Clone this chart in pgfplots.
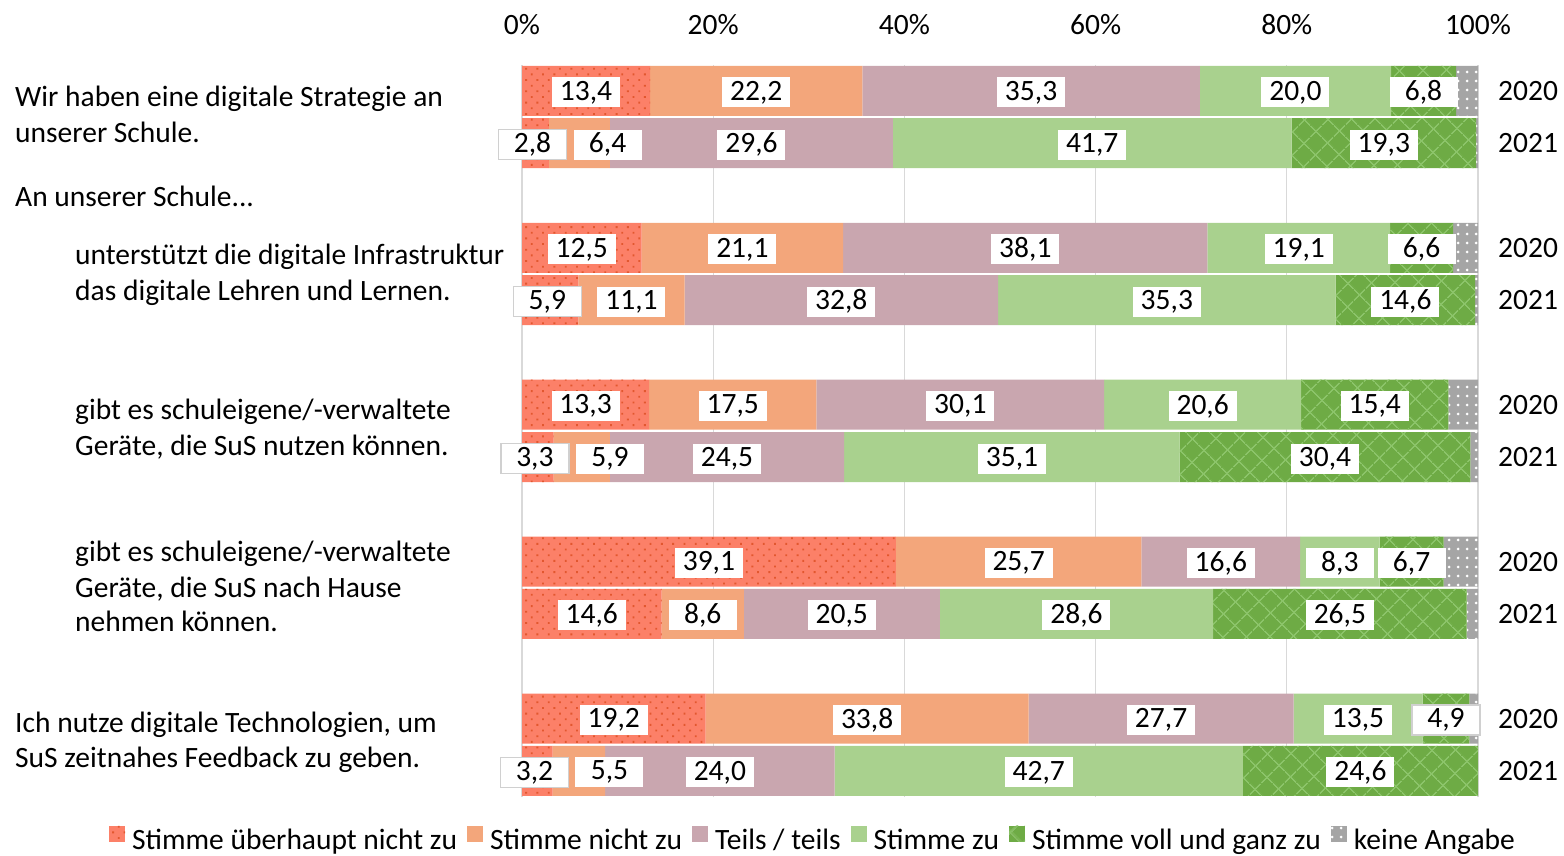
\documentclass[border=0pt]{standalone}
\usepackage{fontspec}
\setmainfont{Carlito}
\usepackage{pgfplots}
\usepackage{pgfplotstable}
\pgfplotsset{compat=1.18}
\usetikzlibrary{patterns.meta}
\definecolor{cA}{HTML}{FC8068}
\definecolor{cAd}{HTML}{E2572F}
\definecolor{cB}{HTML}{F3A67B}
\definecolor{cC}{HTML}{C9A6AF}
\definecolor{cD}{HTML}{A9D18E}
\definecolor{cE}{HTML}{6EAB45}
\definecolor{cEl}{HTML}{8CC46A}
\definecolor{cF}{HTML}{A5A5A5}
\definecolor{gridc}{HTML}{D9D9D9}
\definecolor{boxc}{HTML}{D0D0D0}

\pgfplotstableread{
y    a    b    c    d    e    f
0    13.4 22.2 35.3 20.0 6.8  2.3
-1   2.8  6.4  29.6 41.7 19.3 0.2
-3   12.5 21.1 38.1 19.1 6.6  2.6
-4   5.9  11.1 32.8 35.3 14.6 0.3
-6   13.3 17.5 30.1 20.6 15.4 3.1
-7   3.3  5.9  24.5 35.1 30.4 0.8
-9   39.1 25.7 16.6 8.3  6.7  3.6
-10  14.6 8.6  20.5 28.6 26.5 1.2
-12  19.2 33.8 27.7 13.5 4.9  0.9
-13  3.2  5.5  24.0 42.7 24.6 0.0
}\data

\begin{document}
\fontsize{29.5}{36}\selectfont
\begin{tikzpicture}[x=1pt,y=1pt]
\path[use as bounding box] (0,0) rectangle (1564,855);
\pgfplotsset{
  base/.style={
    at={(522pt,58pt)}, anchor=south west,
    scale only axis, width=956pt, height=732.2pt,
    xmin=0, xmax=100, ymin=-13.5, ymax=0.5,
  },
  lbl/.style={draw=none, mark=none, point meta=explicit,
    nodes near coords={\pgfmathprintnumber[fixed, fixed zerofill, precision=1, use comma, assume math mode=true]{\pgfplotspointmeta}},
    every node near coord/.append style={fill=white, inner sep=0pt, minimum width=68pt, minimum height=30pt, anchor=center, yshift=-1.5pt, text=black},
  },
  lblb/.style={lbl, every node near coord/.append style={draw=boxc, line width=1.2pt}},
}
\begin{axis}[base,
  xbar stacked, bar width=50pt,
  axis line style={draw=none},
  major tick length=0pt,
  xtick={0,20,...,100},
  xticklabel pos=upper,
  xticklabel={\pgfmathprintnumber[assume math mode=true]{\tick}\%},
  xticklabel style={anchor=base, yshift=30pt, inner sep=0pt},
  xmajorgrids, grid style={gridc, line width=1.3pt},
  ytick={0,-1,-3,-4,-6,-7,-9,-10,-12,-13},
  yticklabels={2020,2021,2020,2021,2020,2021,2020,2021,2020,2021},
  yticklabel pos=right,
  yticklabel style={anchor=west, inner sep=0pt, xshift=20pt},
  legend columns=6,
  legend image code/.code={\fill[#1] (0pt,0pt) rectangle (16pt,16pt);},
  legend style={draw=none, fill=none, inner sep=0pt,
    at={(axis description cs:0.3033,-0.0587)}, anchor=center,
    nodes={inner sep=0pt},
    /tikz/every odd column/.style={column sep=7pt},
    /tikz/every even column/.style={column sep=10pt},
  },
]
\addplot[fill=cA, draw=none, postaction={pattern={Dots[angle=45, distance=8pt, radius=1.3pt]}, pattern color=cAd}] table[x=a, y=y] {\data};
\addplot[fill=cB, draw=none] table[x=b, y=y] {\data};
\addplot[fill=cC, draw=none] table[x=c, y=y] {\data};
\addplot[fill=cD, draw=none] table[x=d, y=y] {\data};
\addplot[fill=cE, draw=none, postaction={pattern={Hatch[angle=45, distance=17pt, line width=1.4pt]}, pattern color=cEl}] table[x=e, y=y] {\data};
\addplot[fill=cF, draw=none, postaction={pattern={Dots[distance=9pt, radius=1.5pt]}, pattern color=white}] table[x=f, y=y] {\data};
\legend{Stimme überhaupt nicht zu, Stimme nicht zu, Teils / teils, Stimme zu, Stimme voll und ganz zu, keine Angabe}
\end{axis}
\begin{axis}[base, hide axis]
\addplot[lbl] table[x expr=\thisrow{a}/2, y=y, meta=a, restrict expr to domain={\thisrow{a}}{6:1000}] {\data};
\addplot[lblb] table[x expr=\thisrow{a}/2-0.3, y=y, meta=a, restrict expr to domain={\thisrow{a}}{0:6}] {\data};
\addplot[lbl] table[x expr={max(\thisrow{a}+\thisrow{b}/2, \thisrow{a}/2+7.55)}, y=y, meta=b] {\data};
\addplot[lbl] table[x expr=\thisrow{a}+\thisrow{b}+\thisrow{c}/2, y=y, meta=c] {\data};
\addplot[lbl] table[x expr=\thisrow{a}+\thisrow{b}+\thisrow{c}+\thisrow{d}/2, y=y, meta=d] {\data};
\addplot[lbl] table[x expr=\thisrow{a}+\thisrow{b}+\thisrow{c}+\thisrow{d}+\thisrow{e}/2, y=y, meta=e, restrict expr to domain={\thisrow{e}}{5:1000}] {\data};
\addplot[lblb] table[x expr=\thisrow{a}+\thisrow{b}+\thisrow{c}+\thisrow{d}+\thisrow{e}/2, y=y, meta=e, restrict expr to domain={\thisrow{e}}{0:5}] {\data};
\end{axis}
\node[anchor=base west, inner sep=0pt] at (15,748) {Wir haben eine digitale Strategie an};
\node[anchor=base west, inner sep=0pt] at (15,712) {unserer Schule.};
\node[anchor=base west, inner sep=0pt] at (15,648) {An unserer Schule...};
\node[anchor=base west, inner sep=0pt] at (75,590) {unterstützt die digitale Infrastruktur};
\node[anchor=base west, inner sep=0pt] at (75,554) {das digitale Lehren und Lernen.};
\node[anchor=base west, inner sep=0pt] at (75,435) {gibt es schuleigene/-verwaltete};
\node[anchor=base west, inner sep=0pt] at (75,399) {Geräte, die SuS nutzen können.};
\node[anchor=base west, inner sep=0pt] at (75,293) {gibt es schuleigene/-verwaltete};
\node[anchor=base west, inner sep=0pt] at (75,258) {Geräte, die SuS nach Hause};
\node[anchor=base west, inner sep=0pt] at (75,223) {nehmen können.};
\node[anchor=base west, inner sep=0pt] at (15,123) {Ich nutze digitale Technologien, um};
\node[anchor=base west, inner sep=0pt] at (15,88) {SuS zeitnahes Feedback zu geben.};
\end{tikzpicture}
\end{document}
